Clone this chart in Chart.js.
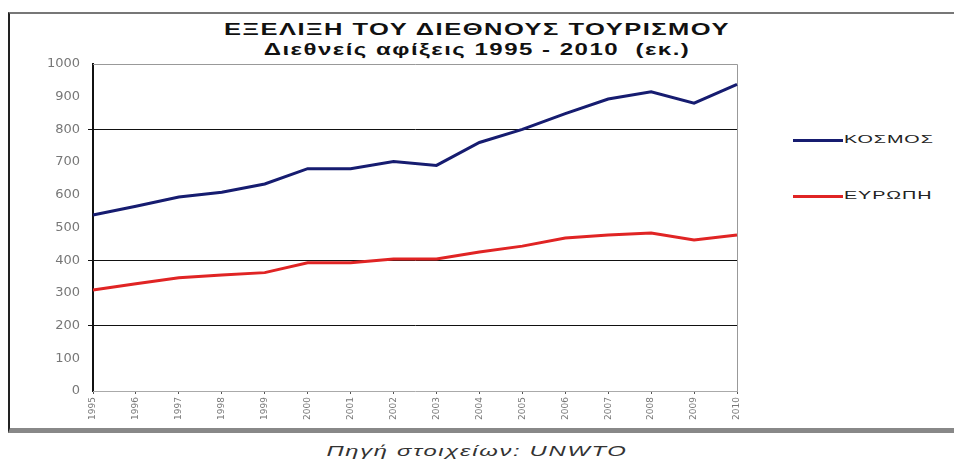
<!DOCTYPE html>
<html lang="el">
<head>
  <meta charset="UTF-8">
  <title>Εξέλιξη του διεθνούς τουρισμού</title>
  <script src="https://cdn.jsdelivr.net/npm/chart.js"></script>
  <style>
    body { margin: 0; background: #fff; font-family: "Liberation Sans", Arial, sans-serif; }
    #wrap { position: relative; width: 954px; height: 461px; overflow: hidden; }
    #frame { position: absolute; left: 8px; top: 12px; width: 960px; height: 414px;
             border-left: 2px solid #222; border-top: 2px solid #777; border-bottom: 5px solid #888; }
    .t1, .t2, .src { position: absolute; left: 0; width: 954px; text-align: center; }
    .t1 { top: 20px; font-weight: bold; font-size: 17px; letter-spacing: 1px; color: #111; transform: scaleX(1.5); }
    .t2 { top: 41px; font-weight: bold; font-size: 16px; letter-spacing: 1px; color: #111; transform: scaleX(1.5); }
    .src { top: 443px; font-style: italic; font-size: 14px; letter-spacing: 1px; color: #333; transform: scaleX(1.7); }
    .leg { position: absolute; left: 793px; font-size: 11px; color: #222; letter-spacing: 0.5px; white-space: nowrap; }
    .leg span { display: inline-block; width: 50px; height: 3px; vertical-align: middle; margin-right: 1px; }
    .leg b { font-weight: normal; display: inline-block; transform: scaleX(1.8); transform-origin: left center; }
    canvas { position: absolute; left: 0; top: 0; }
  </style>
</head>
<body>
<div id="wrap">
  <div id="frame"></div>
  <div class="t1">ΕΞΕΛΙΞΗ ΤΟΥ ΔΙΕΘΝΟΥΣ ΤΟΥΡΙΣΜΟΥ</div>
  <div class="t2">Διεθνείς αφίξεις 1995 - 2010&nbsp; (εκ.)</div>
  <div class="leg" style="top:133px"><span style="background:#161c70"></span><b>ΚΟΣΜΟΣ</b></div>
  <div class="leg" style="top:189px"><span style="background:#e02424"></span><b>ΕΥΡΩΠΗ</b></div>
  <div class="src">Πηγή στοιχείων: UNWTO</div>
  <canvas id="c" width="954" height="461"></canvas>
</div>
<script>
  const years = ['1995','1996','1997','1998','1999','2000','2001','2002','2003','2004','2005','2006','2007','2008','2009','2010'];
  const kosmos = [538, 565, 593, 608, 633, 680, 680, 702, 690, 760, 800, 848, 893, 915, 880, 938];
  const evropi = [309, 328, 346, 355, 362, 392, 392, 404, 404, 425, 443, 468, 477, 483, 462, 477];
  const gridValues = [200, 400, 800];

  // γκρι πλαίσιο πάνω και δεξιά της περιοχής σχεδίασης
  const areaFrame = {
    id: 'areaFrame',
    beforeDatasetsDraw(chart) {
      const a = chart.chartArea, ctx = chart.ctx;
      ctx.save();
      ctx.strokeStyle = '#999';
      ctx.lineWidth = 1;
      ctx.beginPath();
      ctx.moveTo(a.left, a.top + 0.5);
      ctx.lineTo(a.right + 0.5, a.top + 0.5);
      ctx.lineTo(a.right + 0.5, a.bottom);
      ctx.stroke();
      ctx.restore();
    }
  };

  new Chart(document.getElementById('c'), {
    type: 'line',
    data: {
      labels: years,
      datasets: [
        { label: 'ΚΟΣΜΟΣ', data: kosmos, borderColor: '#161c70', borderWidth: 3, pointRadius: 0, tension: 0 },
        { label: 'ΕΥΡΩΠΗ', data: evropi, borderColor: '#e02424', borderWidth: 3, pointRadius: 0, tension: 0 }
      ]
    },
    options: {
      responsive: false,
      animation: false,
      layout: { padding: { left: 0, right: 217, top: 64, bottom: 0 } },
      plugins: { legend: { display: false }, tooltip: { enabled: false } },
      scales: {
        y: {
          min: 0, max: 1000,
          afterFit: s => { s.width = 93; },
          ticks: {
            stepSize: 100, color: '#777', padding: 8,
            font: { family: 'DejaVu Sans', size: 13 },
            callback: v => String(v)
          },
          grid: {
            color: ctx => gridValues.includes(ctx.tick && ctx.tick.value) ? '#111' : 'rgba(0,0,0,0)',
            tickLength: 5, lineWidth: 1
          },
          border: { color: '#111', width: 2 }
        },
        x: {
          offset: false,
          afterFit: s => { s.height = 70; },
          ticks: { color: '#777', font: { family: 'DejaVu Sans', size: 9 }, maxRotation: 90, minRotation: 90, autoSkip: false, padding: 3 },
          grid: { drawOnChartArea: false, color: '#555', tickLength: 3 },
          border: { color: '#aaa', width: 1 }
        }
      }
    },
    plugins: [areaFrame]
  });
</script>
</body>
</html>
